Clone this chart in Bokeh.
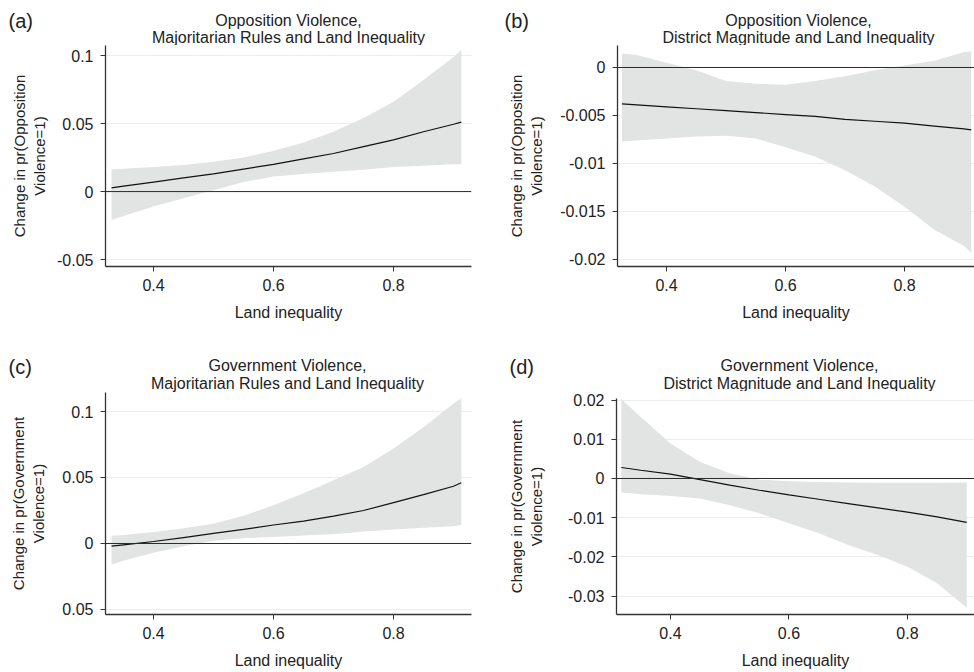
from bokeh.plotting import figure
from bokeh.layouts import column, row
from bokeh.models import Range1d, FixedTicker, Span, Label
from bokeh.embed import file_html
from bokeh.resources import INLINE

FONT = "Liberation Sans"

# ---------------- data ----------------
x_ticks = [0.4, 0.6, 0.8]
x_tick_labels = ["0.4", "0.6", "0.8"]

# (a) Opposition violence, majoritarian rules
a_x = [0.33, 0.35, 0.40, 0.45, 0.50, 0.55, 0.60, 0.65, 0.70, 0.75, 0.80, 0.85, 0.90, 0.913]
a_mid = [0.0027, 0.004, 0.007, 0.010, 0.013, 0.0165, 0.020, 0.024, 0.028, 0.033, 0.038, 0.044, 0.0495, 0.051]
a_hi = [0.0164, 0.0168, 0.018, 0.0195, 0.022, 0.025, 0.030, 0.036, 0.044, 0.054, 0.066, 0.082, 0.099, 0.104]
a_lo = [-0.021, -0.018, -0.011, -0.005, 0.001, 0.007, 0.011, 0.013, 0.0145, 0.016, 0.018, 0.019, 0.020, 0.020]
a_yticks = [-0.05, 0.0, 0.05, 0.1]
a_ylabels = ["-0.05", "0", "0.05", "0.1"]

# (b) Opposition violence, district magnitude
b_x = [0.325, 0.35, 0.40, 0.45, 0.50, 0.55, 0.60, 0.65, 0.70, 0.75, 0.80, 0.85, 0.90, 0.912]
b_mid = [-0.0038, -0.0039, -0.0041, -0.0043, -0.0045, -0.0047, -0.0049, -0.0051, -0.0054, -0.0056, -0.0058, -0.0061, -0.0064, -0.0065]
b_hi = [0.00145, 0.0013, 0.0005, -0.0003, -0.0014, -0.0017, -0.0018, -0.0014, -0.0009, -0.0003, 0.0002, 0.0007, 0.0016, 0.0017]
b_lo = [-0.0077, -0.0076, -0.0074, -0.0072, -0.0071, -0.0074, -0.0083, -0.0093, -0.0107, -0.0124, -0.0145, -0.0169, -0.0186, -0.0193]
b_yticks = [-0.02, -0.015, -0.01, -0.005, 0.0]
b_ylabels = ["-0.02", "-0.015", "-0.01", "-0.005", "0"]

# (c) Government violence, majoritarian rules
c_x = [0.33, 0.35, 0.40, 0.45, 0.50, 0.55, 0.60, 0.65, 0.70, 0.75, 0.80, 0.85, 0.90, 0.913]
c_mid = [-0.002, -0.001, 0.0015, 0.0045, 0.0076, 0.0107, 0.014, 0.017, 0.0207, 0.025, 0.031, 0.037, 0.0434, 0.046]
c_hi = [0.0058, 0.0065, 0.0088, 0.0115, 0.015, 0.021, 0.029, 0.038, 0.048, 0.058, 0.072, 0.088, 0.106, 0.110]
c_lo = [-0.016, -0.013, -0.007, -0.002, 0.002, 0.004, 0.005, 0.006, 0.007, 0.009, 0.0106, 0.012, 0.013, 0.014]
c_yticks = [-0.05, 0.0, 0.05, 0.1]
c_ylabels = ["0.05", "0", "0.05", "0.1"]

# (d) Government violence, district magnitude
d_x = [0.317, 0.35, 0.40, 0.45, 0.50, 0.55, 0.60, 0.65, 0.70, 0.75, 0.80, 0.85, 0.90]
d_mid = [0.0028, 0.0021, 0.0011, -0.0003, -0.0017, -0.003, -0.0042, -0.0053, -0.0064, -0.0075, -0.0086, -0.0098, -0.0112]
d_hi = [0.0203, 0.0157, 0.0089, 0.0042, 0.0013, -0.0003, -0.0007, -0.0009, -0.001, -0.0011, -0.0011, -0.0011, -0.001]
d_lo = [-0.0036, -0.004, -0.0045, -0.0051, -0.0068, -0.0089, -0.0114, -0.014, -0.017, -0.0195, -0.0225, -0.0267, -0.033]
d_yticks = [-0.03, -0.02, -0.01, 0.0, 0.01, 0.02]
d_ylabels = ["-0.03", "-0.02", "-0.01", "0", "0.01", "0.02"]

titles = {
    "a": ("Opposition Violence,", "Majoritarian Rules and Land Inequality"),
    "b": ("Opposition Violence,", "District Magnitude and Land Inequality"),
    "c": ("Government Violence,", "Majoritarian Rules and Land Inequality"),
    "d": ("Government Violence,", "District Magnitude and Land Inequality"),
}
ylabs = {
    "a": "Change in pr(Opposition\nViolence=1)",
    "b": "Change in pr(Opposition\nViolence=1)",
    "c": "Change in pr(Government\nViolence=1)",
    "d": "Change in pr(Government\nViolence=1)",
}
xlab = "Land inequality"

TXT = "#222222"


def lab(p, text, x, y, size, align="center"):
    p.add_layout(Label(x=x, y=y, x_units="screen", y_units="screen", text=text,
                       text_font=FONT, text_font_size=f"{size}px", text_color=TXT,
                       text_align=align, text_baseline="middle"))


def header(w, h, key, tag_x, tag_y, tx, t1y, t2y):
    p = figure(width=w, height=h, x_range=Range1d(0, 1), y_range=Range1d(0, 1),
               x_axis_type=None, y_axis_type=None,
               output_backend="svg", toolbar_location=None, min_border=0)
    p.outline_line_color = None
    p.grid.visible = False
    p.background_fill_color = "white"
    p.border_fill_color = "white"
    lab(p, f"({key})", tag_x, tag_y, 20, align="left")
    lab(p, titles[key][0], tx, t1y, 16)
    lab(p, titles[key][1], tx, t2y, 16)
    return p


def panel(key, xs, mid, lo, hi, xr, yr, yticks, ylabels, head, main, ylab_standoff):
    h = header(487, head[0], key, *head[1:])

    bl, br, bt, bb, fw, fh = main
    p = figure(width=bl + fw + br, height=bt + fh + bb,
               x_range=Range1d(*xr), y_range=Range1d(*yr),
               output_backend="svg", toolbar_location=None,
               min_border_left=bl, min_border_right=br,
               min_border_top=bt, min_border_bottom=bb)
    p.outline_line_color = None
    p.background_fill_color = "white"
    p.border_fill_color = "white"
    p.xgrid.grid_line_color = None
    p.ygrid.grid_line_color = "#ededed"
    p.ygrid.ticker = FixedTicker(ticks=yticks)

    p.varea(x=xs, y1=lo, y2=hi, fill_color="#e2e4e4", fill_alpha=1.0)
    p.add_layout(Span(location=0, dimension="width", line_color="#2a2a2a", line_width=1))
    p.line(xs, mid, line_color="#111111", line_width=1.2)

    for ax in (p.xaxis[0], p.yaxis[0]):
        ax.axis_line_color = "#333333"
        ax.axis_line_width = 1.3
        ax.major_tick_line_color = "#333333"
        ax.major_tick_out = 5
        ax.major_tick_in = 0
        ax.minor_tick_line_color = None
        ax.major_label_text_font = FONT
        ax.major_label_text_font_size = "16px"
        ax.major_label_text_color = TXT
        ax.major_label_standoff = 7
        ax.axis_label_text_font = FONT
        ax.axis_label_text_font_style = "normal"
        ax.axis_label_text_color = TXT
    p.xaxis.ticker = FixedTicker(ticks=x_ticks)
    p.xaxis.major_label_overrides = dict(zip(x_ticks, x_tick_labels))
    p.yaxis.ticker = FixedTicker(ticks=yticks)
    p.yaxis.major_label_overrides = dict(zip(yticks, ylabels))
    p.xaxis.axis_label = xlab
    p.xaxis.axis_label_text_font_size = "16px"
    p.xaxis.axis_label_standoff = 10
    p.yaxis.axis_label = ylabs[key]
    p.yaxis.axis_label_text_font_size = "15px"
    p.yaxis.axis_label_standoff = ylab_standoff

    # wrap the plot in a row so that the header is not frame-aligned with it
    return column(h, row(p))


pa = panel("a", a_x, a_mid, a_lo, a_hi, (0.32, 0.93), (-0.0551, 0.1074), a_yticks, a_ylabels,
           (45, 8, 25, 288, 25, 8),
           (105, 16, 0, 70, 366, 221), 6)
pb = panel("b", b_x, b_mid, b_lo, b_hi, (0.3176, 0.9176), (-0.02073, 0.00229), b_yticks, b_ylabels,
           (45, 17, 25, 311, 25, 8),
           (130, 0, 0, 70, 357, 221), 12)
pc = panel("c", c_x, c_mid, c_lo, c_hi, (0.32, 0.93), (-0.0538, 0.1144), c_yticks, c_ylabels,
           (56, 8, 26, 287, 27, 9),
           (105, 16, 0, 58, 366, 222), 12)
pd_ = panel("d", d_x, d_mid, d_lo, d_hi, (0.3089, 0.9131), (-0.0347, 0.0204), d_yticks, d_ylabels,
            (55, 22, 25, 312, 26, 8),
            (129, 0, 7, 58, 358, 216), 20)

layout = column(row(pa, pb), row(pc, pd_))
open("out.html", "w").write(file_html(layout, INLINE))
